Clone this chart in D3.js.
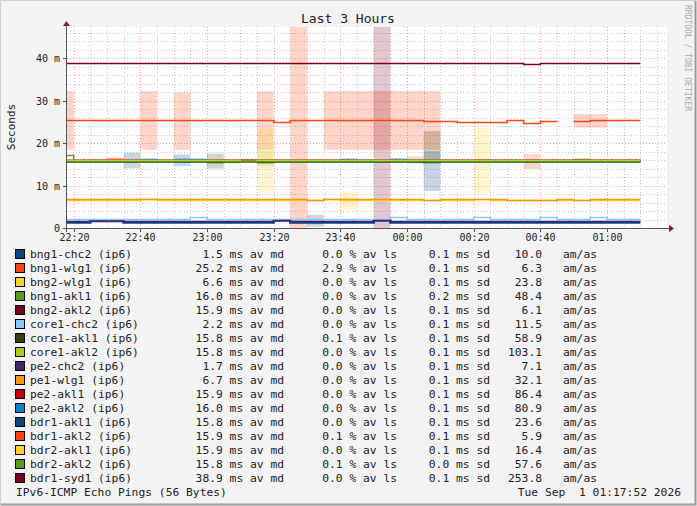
<!DOCTYPE html>
<html><head><meta charset="utf-8">
<script src="https://cdn.jsdelivr.net/npm/d3@7"></script>
<style>
body{margin:0;background:#fff;}
text{font-family:"DejaVu Sans Mono",monospace;}
</style></head>
<body><svg id="chart" width="697" height="506"></svg>
<script>
// targets, colours and legend stats
var names = ["bng1-chc2","bng1-wlg1","bng2-wlg1","bng1-akl1","bng2-akl2","core1-chc2","core1-akl1","core1-akl2",
  "pe2-chc2","pe1-wlg1","pe2-akl1","pe2-akl2","bdr1-akl1","bdr1-akl2","bdr2-akl1","bdr2-akl2","bdr1-syd1"];
var colors = ["#004586","#ff420e","#ffd320","#579d1c","#7e0021","#83caff","#314004","#aecf00",
  "#4b1f6f","#ff950e","#c5000b","#0084d1","#004586","#ff420e","#ffd320","#579d1c","#7e0021"];
var avMedian = ["1.5","25.2","6.6","16.0","15.9","2.2","15.8","15.8","1.7","6.7","15.9","16.0","15.8","15.9","15.9","15.8","38.9"];
var avLoss = ["0.0","2.9","0.0","0.0","0.0","0.0","0.1","0.0","0.0","0.0","0.0","0.0","0.0","0.1","0.0","0.1","0.0"];
var avSd = ["0.1","0.1","0.1","0.2","0.1","0.1","0.1","0.1","0.1","0.1","0.1","0.1","0.1","0.1","0.1","0.0","0.1"];
var amAs = ["10.0","6.3","23.8","48.4","6.1","11.5","58.9","103.1","7.1","32.1","86.4","80.9","23.6","5.9","16.4","57.6","253.8"];

// median per 5-minute step, step 0 starts 22:15 (ms); null = no data
var medians = [
 [1.5,1.5,1.8,1.8,1.5,1.5,1.5,1.5,1.5,1.5,1.5,1.5,1.5,1.8,1.5,1.5,1.5,1.5,1.5,1.8,1.5,1.5,1.5,1.5,1.5,1.5,1.5,1.5,1.5,1.5,1.5,1.5,1.5,1.5,1.5],
 [25.3,25.3,25.3,25.3,25.3,25.3,25.3,25.3,25.3,25.3,25.3,25.3,25.3,25.0,25.3,25.3,25.3,25.3,25.3,25.3,25.3,25.3,25.1,25.1,25.0,25.0,25.0,25.3,24.8,25.1,null,25.1,25.3,25.3,25.3],
 [6.6,6.6,6.6,6.6,6.6,6.8,6.6,6.6,6.6,6.6,6.6,6.6,6.6,6.6,6.6,6.6,6.8,6.6,6.6,6.6,6.6,6.6,6.6,6.6,6.6,6.8,6.6,6.6,6.6,6.6,6.6,6.6,6.6,6.6,6.6],
 [17.2,16.0,16.0,16.0,16.0,16.0,16.0,16.0,16.0,16.0,16.0,16.0,16.0,16.0,16.0,16.0,16.0,16.0,16.0,16.0,16.0,16.0,16.0,16.0,16.0,16.0,16.0,16.0,16.0,16.0,16.0,16.2,16.0,16.0,16.0],
 [15.9,15.9,15.9,15.9,15.9,15.9,15.9,15.9,15.9,15.9,15.9,15.9,15.9,15.9,15.9,15.9,15.9,15.9,15.9,15.9,15.9,15.9,15.9,15.9,15.9,15.9,15.9,15.9,15.9,15.9,15.9,15.9,15.9,15.9,15.9],
 [2.2,2.2,2.2,2.2,2.2,2.2,2.2,2.2,2.6,2.2,2.2,2.2,2.2,2.2,2.2,2.2,2.2,2.2,2.2,2.2,2.5,2.2,2.2,2.2,2.2,2.5,2.2,2.2,2.2,2.5,2.2,2.2,2.5,2.2,2.2],
 [15.8,15.7,15.7,15.8,15.8,15.8,15.8,15.8,15.8,15.6,15.8,15.8,15.6,15.8,15.8,15.8,15.8,15.8,15.8,15.8,15.8,15.8,15.5,15.8,15.8,15.8,15.8,15.8,15.8,15.8,15.8,15.8,15.8,15.8,15.8],
 [15.8,15.8,15.8,15.8,15.8,15.8,15.8,15.8,15.8,15.8,15.6,15.8,15.8,15.8,15.8,15.8,15.8,15.8,15.8,15.8,15.8,15.8,15.8,15.8,15.8,15.8,15.8,15.8,15.8,15.8,15.8,15.8,15.8,15.8,15.8],
 [1.7,1.7,1.7,1.7,1.7,1.7,1.7,1.7,1.7,1.7,1.7,1.7,1.7,1.9,1.7,1.7,1.7,1.7,1.7,1.9,1.7,1.7,1.7,1.7,1.7,1.7,1.7,1.7,1.7,1.7,1.7,1.7,1.7,1.7,1.7],
 [6.8,6.8,6.8,6.8,6.8,6.8,6.8,6.8,6.8,6.8,6.8,6.8,6.8,6.8,6.8,6.5,6.8,6.8,6.8,6.8,6.8,6.8,6.5,6.8,6.8,6.8,6.8,6.5,6.5,6.5,6.8,6.5,6.8,6.8,6.8],
 [15.9,15.9,15.9,16.2,15.9,15.9,15.9,15.9,15.9,15.9,15.9,15.9,15.9,15.9,15.9,15.9,15.9,15.9,15.9,15.9,15.9,15.9,15.9,15.9,15.9,15.9,15.9,15.9,15.9,15.9,15.9,15.9,15.9,15.9,15.9],
 [16.0,16.0,16.0,16.0,16.0,16.2,16.0,16.2,16.2,16.0,16.0,16.0,16.0,16.0,16.0,16.0,16.0,16.2,16.0,16.0,16.2,16.0,16.0,16.0,16.0,16.0,16.0,16.0,16.0,16.0,16.0,16.0,16.0,16.0,16.0],
 [15.8,15.8,15.8,15.8,15.8,15.8,15.8,15.8,15.8,15.8,15.8,15.8,15.8,15.8,15.8,15.8,15.8,15.8,15.8,15.8,15.8,15.8,15.8,15.8,15.8,15.8,15.8,15.8,15.8,15.8,15.8,15.8,15.8,15.8,15.8],
 [15.9,15.9,15.9,16.2,15.9,15.9,15.9,15.9,15.9,15.9,15.9,15.9,15.9,15.9,15.9,15.9,15.9,15.9,15.9,15.9,15.9,15.9,15.9,15.9,15.9,15.9,15.9,15.9,15.9,15.9,15.9,15.9,15.9,15.9,15.9],
 [15.9,15.9,15.9,15.9,15.9,15.9,15.9,15.9,15.9,15.9,15.9,15.7,15.9,15.9,15.9,15.9,15.9,15.9,15.9,15.9,15.9,15.9,15.9,15.9,15.9,15.9,15.9,15.9,15.9,15.9,15.9,15.9,15.9,15.9,15.9],
 [15.8,15.8,15.8,15.8,15.8,15.8,15.8,15.8,15.8,15.8,15.8,15.8,15.8,15.8,15.8,15.8,15.8,15.8,15.8,15.8,15.8,15.8,15.8,15.8,15.8,15.8,15.8,15.8,15.8,15.8,15.8,15.8,15.8,15.8,15.8],
 [38.9,38.9,38.9,38.9,38.9,38.9,38.9,38.9,38.9,38.9,38.9,38.9,38.9,38.9,38.9,38.9,38.9,38.9,38.9,38.9,38.9,38.9,38.9,38.9,38.9,38.9,38.9,38.9,38.6,38.9,38.9,38.9,38.9,38.9,38.9]
];
// smoke: [target, step, low ms, high ms]
var smoke = [
 [1,0,18.4,32.2],[1,5,18.4,32.2],[1,7,18.4,31.9],[1,12,18.4,32.2],[1,14,0,48],
 [1,16,18.4,32.2],[1,17,18.4,32.2],[1,18,18.4,32.2],[1,19,18.4,32.2],[1,20,18.4,32.2],[1,21,18.4,32.2],[1,22,18.4,32.2],
 [1,31,23.6,26.8],[1,32,23.6,26.8],[13,28,13.9,17.4],
 [12,4,14.0,17.7],[12,7,14.6,17.3],[6,9,14.0,17.5],[7,11,16.0,16.4],
 [2,12,8.4,23.3],[7,12,14.5,18.2],[2,17,4.2,8.4],[8,15,0.3,3.1],
 [4,19,0,48],[13,20,16.0,16.4],[3,21,15.1,16.8],
 [12,22,8.7,18.1],[6,22,15.8,22.8],[2,25,8.3,23.6],[11,25,15.6,16.3]
];
var xTicks = ["22:20","22:40","23:00","23:20","23:40","00:00","00:20","00:40","01:00"];
var yTicks = [0,10,20,30,40];

var svg = d3.select("#chart");
var W = 697, H = 506;
svg.append("rect").attr("width",W).attr("height",H).attr("fill","#f3f3f3");
svg.append("path").attr("d","M0.5,505.5V0.5H696.5").attr("stroke","#cfcfcf").attr("fill","none");
svg.append("path").attr("d","M1,504.5H695.5V1").attr("stroke","#9a9a9a").attr("stroke-width",2).attr("fill","none");

var t0 = new Date(2026,8,1,22,18), tStart = new Date(2026,8,1,22,15);
var x = d3.scaleTime().domain([t0, d3.timeMinute.offset(t0,180)]).range([67,667]);
var y = d3.scaleLinear().domain([0,47.3]).range([228,27]);
var tick = function(s){ var p = s.split(":").map(Number); return new Date(2026,8,p[0]<12?2:1,p[0],p[1]); };
function stepT(i){ return d3.timeMinute.offset(tStart,5*i); }

svg.append("rect").attr("x",67).attr("y",27).attr("width",600).attr("height",201).attr("fill","#fff");

var g = svg.append("g");
// minor grid
d3.range(0,48,2).forEach(function(v){
  g.append("line").attr("x1",67).attr("x2",667).attr("y1",Math.round(y(v))+0.5).attr("y2",Math.round(y(v))+0.5)
   .attr("stroke",v%10===0?"#f3a0a0":"#c8c8c8").attr("stroke-dasharray","1,2");
});
d3.timeMinute.every(5).range(t0, d3.timeMinute.offset(t0,181)).forEach(function(t){
  var major = t.getMinutes()%20===0;
  g.append("line").attr("x1",Math.round(x(t))+0.5).attr("x2",Math.round(x(t))+0.5).attr("y1",27).attr("y2",228)
   .attr("stroke",major?"#f3a0a0":"#c8c8c8").attr("stroke-dasharray","1,2");
});

// smoke
g.selectAll("rect.smoke").data(smoke).enter().append("rect")
 .attr("x",function(d){ return x(d3.max([stepT(d[1]),t0])); })
 .attr("width",function(d){ return x(stepT(d[1]+1)) - x(d3.max([stepT(d[1]),t0])); })
 .attr("y",function(d){ return y(Math.min(d[3],47.3)); })
 .attr("height",function(d){ return y(d[2]) - y(Math.min(d[3],47.3)); })
 .attr("fill",function(d){ return colors[d[0]]; }).attr("fill-opacity",0.22);

// median lines, stepped
medians.forEach(function(arr,i){
  var pts = [];
  arr.forEach(function(v,k){
    pts.push({t:d3.max([stepT(k),t0]),v:v});
    pts.push({t:stepT(k+1),v:v});
  });
  var line = d3.line().defined(function(d){ return d.v!==null; })
    .x(function(d){ return x(d.t); }).y(function(d){ return Math.round(y(d.v))+0.5; });
  g.append("path").attr("d",line(pts)).attr("fill","none").attr("stroke",colors[i])
   .attr("stroke-width",(i===0||i===12)?2.5:1.5);
});

// axes
svg.append("line").attr("x1",67).attr("x2",669).attr("y1",228.5).attr("y2",228.5).attr("stroke","#555");
svg.append("line").attr("x1",66.5).attr("x2",66.5).attr("y1",232).attr("y2",24).attr("stroke","#555");
svg.append("path").attr("d","M669,225L674,228.5L669,232Z").attr("fill","#8b1a1a");
svg.append("path").attr("d","M63,26L66.5,21L70,26Z").attr("fill","#8b1a1a");
xTicks.forEach(function(s){
  var px = Math.round(x(tick(s)))+0.5;
  svg.append("line").attr("x1",px).attr("x2",px).attr("y1",228).attr("y2",232).attr("stroke","#555");
  svg.append("text").attr("x",px).attr("y",241).attr("text-anchor","middle").attr("font-size",10).attr("fill","#222").text(s);
});
yTicks.forEach(function(v){
  svg.append("line").attr("x1",63).attr("x2",67).attr("y1",Math.round(y(v))+0.5).attr("y2",Math.round(y(v))+0.5).attr("stroke","#555");
  svg.append("text").attr("x",60).attr("y",y(v)+4).attr("text-anchor","end").attr("font-size",10).attr("fill","#222")
   .text(v===0?"0":v+" m");
});
svg.append("text").attr("x",348).attr("y",23).attr("text-anchor","middle").attr("font-size",13).attr("fill","#222").text("Last 3 Hours");
svg.append("text").attr("transform","translate(15,127) rotate(-90)").attr("text-anchor","middle").attr("font-size",11).attr("fill","#222").text("Seconds");
svg.append("text").attr("transform","translate(685,5) rotate(90)").attr("text-anchor","start").attr("font-size",8).attr("fill","#aaa").text("RRDTOOL / TOBI OETIKER");

// legend
var leg = svg.append("g");
names.forEach(function(n,i){
  var ly = 254 + i*14;
  leg.append("rect").attr("x",15.5).attr("y",ly-4.5).attr("width",9).attr("height",9).attr("fill",colors[i]).attr("stroke","#000");
  var txt = function(xx,anchor,s){ leg.append("text").attr("x",xx).attr("y",ly+4).attr("text-anchor",anchor).attr("font-size",11.3).attr("fill","#222").attr("xml:space","preserve").text(s); };
  txt(30,"start",n+" (ip6)");
  txt(284,"end",avMedian[i]+" ms av md");
  txt(397,"end",avLoss[i]+" % av ls");
  txt(490,"end",avSd[i]+" ms sd");
  txt(542,"end",amAs[i]);
  txt(563,"start","am/as");
});
leg.append("text").attr("x",16).attr("y",496).attr("font-size",11.3).attr("fill","#222").text("IPv6-ICMP Echo Pings (56 Bytes)");
leg.append("text").attr("x",681).attr("y",496).attr("text-anchor","end").attr("font-size",11.3).attr("fill","#222").attr("xml:space","preserve").text("Tue Sep  1 01:17:52 2026");
</script></body></html>
